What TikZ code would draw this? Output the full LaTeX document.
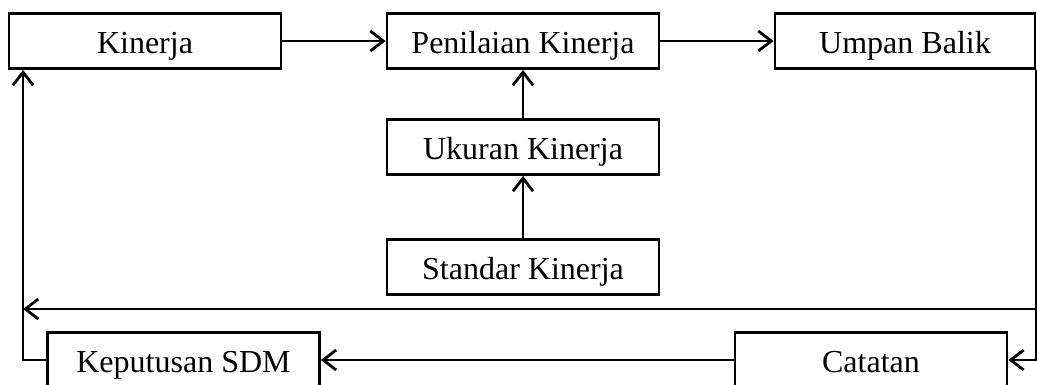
\documentclass[tikz,border=0pt]{standalone}
\usepackage{fontspec}
\setmainfont{Liberation Serif}
\usetikzlibrary{arrows.meta}
\begin{document}
\begin{tikzpicture}[x=1pt,y=-1pt,
  box/.style={draw,line width=2.8pt,minimum height=55pt,inner sep=0pt,
    text height=25pt,text depth=0pt,
    font=\fontsize{32}{36}\selectfont},
  conn/.style={line width=2.8pt},
  arr/.style={conn,-{Straight Barb[length=13pt,width=20pt,line width=2.8pt]}}]
\useasboundingbox (0,0) rectangle (1037,385);
\clip (0,0) rectangle (1037,385);
\node[box,minimum width=272pt] (kin) at (145,41) {Kinerja};
\node[box,minimum width=272pt] (pen) at (523,41) {Penilaian Kinerja};
\node[box,minimum width=260pt] (umb) at (905,41) {Umpan Balik};
\node[box,minimum width=272pt] (uku) at (523,147) {Ukuran Kinerja};
\node[box,minimum width=272pt] (std) at (523,267) {Standar Kinerja};
\node[box,minimum width=272pt] (kep) at (183.5,360) {Keputusan SDM};
\node[box,minimum width=272pt] (cat) at (871,360) {Catatan};
\coordinate (lx) at (23,309);
\coordinate (j) at (umb.south east |- lx);
\draw[arr] (kin.east) -- (pen.west);
\draw[arr] (pen.east) -- (umb.west);
\draw[arr] (std.north) -- (uku.south);
\draw[arr] (uku.north) -- (pen.south);
\draw[arr] (umb.south east) -- (umb.south east |- cat.east) -- (cat.east);
\draw[arr] (j) -- (lx);
\draw[arr] (cat.west) -- (kep.east);
\draw[arr] (kep.west) -- (lx |- kep.west) -- (lx |- kin.south);
\end{tikzpicture}
\end{document}
